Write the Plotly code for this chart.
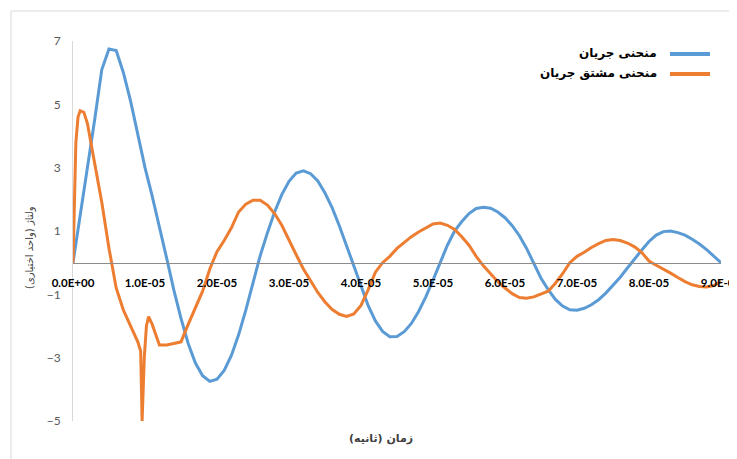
import plotly.graph_objects as go

# time in microseconds (converted to seconds below)
t_current_us = list(range(0, 91))
current = [0, 1.5, 2.9, 4.5, 6.1, 6.75, 6.7, 6.0, 5.1, 4.0,
           3.0, 2.1, 1.15, 0.15, -0.86, -1.76, -2.55, -3.17, -3.57, -3.75,
           -3.68, -3.4, -2.93, -2.28, -1.5, -0.63, 0.22, 0.94, 1.6, 2.15,
           2.57, 2.83, 2.9, 2.81, 2.58, 2.2, 1.73, 1.16, 0.52, -0.13,
           -0.78, -1.36, -1.84, -2.17, -2.34, -2.33, -2.18, -1.92, -1.54, -1.08,
           -0.55, 0.0, 0.55, 1.0, 1.3, 1.55, 1.71, 1.75, 1.72, 1.6,
           1.42, 1.17, 0.85, 0.45, 0.0, -0.49, -0.85, -1.16, -1.37, -1.49,
           -1.5, -1.44, -1.33, -1.17, -0.96, -0.72, -0.46, -0.17, 0.13, 0.4,
           0.67, 0.87, 0.98, 1.0, 0.95, 0.87, 0.74, 0.59, 0.41, 0.21,
           0.0]

t_deriv_us = [0, 0.2, 0.4, 0.7, 1.0, 1.5, 2, 3, 4, 5, 6, 7, 8, 9, 9.4, 9.6, 9.9,
              10.2, 10.5, 11, 12, 13, 14, 15, 16, 17, 18, 19, 20, 21, 22, 23, 24,
              25, 26, 27, 28, 29, 30, 31, 32, 33, 34, 35, 36, 37, 38, 39, 40, 41,
              42, 43, 44, 45, 46, 47, 48, 49, 50, 51, 52, 53, 54, 55, 56, 57, 58,
              59, 60, 61, 62, 63, 64, 65, 66, 67, 68, 69, 70, 71, 72, 73, 74, 75,
              76, 77, 78, 79, 80, 81, 82, 83, 84, 85, 86, 87, 88, 89, 90]
deriv = [0, 2.5, 3.8, 4.6, 4.8, 4.75, 4.4, 3.15, 1.9, 0.45, -0.8, -1.5, -2.0, -2.5, -2.8, -5.0, -3.0,
         -2.0, -1.7, -1.95, -2.6, -2.6, -2.55, -2.5, -1.95, -1.45, -0.9, -0.2, 0.35, 0.7, 1.1, 1.6, 1.85,
         1.97, 1.97, 1.82, 1.55, 1.18, 0.74, 0.25, -0.2, -0.59, -0.94, -1.24, -1.48, -1.63, -1.7, -1.62, -1.35, -0.85,
         -0.3, 0.0, 0.2, 0.45, 0.65, 0.82, 0.97, 1.1, 1.22, 1.25, 1.18, 1.05, 0.82, 0.55, 0.2, -0.1, -0.35,
         -0.6, -0.8, -0.98, -1.1, -1.12, -1.08, -1.0, -0.9, -0.65, -0.35, 0.0, 0.2, 0.33, 0.48, 0.6, 0.7, 0.73,
         0.7, 0.62, 0.5, 0.32, 0.05, -0.08, -0.2, -0.33, -0.47, -0.6, -0.7, -0.75, -0.77, -0.72, -0.6]

x_tick_vals = [0, 1e-5, 2e-5, 3e-5, 4e-5, 5e-5, 6e-5, 7e-5, 8e-5, 9e-5]
x_tick_text = ["0.0E+00", "1.0E-05", "2.0E-05", "3.0E-05", "4.0E-05",
               "5.0E-05", "6.0E-05", "7.0E-05", "8.0E-05", "9.0E-05"]
y_tick_vals = [-5, -3, -1, 1, 3, 5, 7]

series_names = ["منحنی جریان", "منحنی مشتق جریان"]
x_title = "زمان (ثانیه)"
y_title = "ولتاژ (واحد اختیاری)"

BLUE = "#5B9BD5"
ORANGE = "#ED7D31"

t_current = [v * 1e-6 for v in t_current_us]
t_deriv = [v * 1e-6 for v in t_deriv_us]

fig = go.Figure()
fig.add_trace(go.Scatter(x=t_current, y=current, mode="lines", name=series_names[0],
                         line=dict(color=BLUE, width=3), showlegend=False))
fig.add_trace(go.Scatter(x=t_deriv, y=deriv, mode="lines", name=series_names[1],
                         line=dict(color=ORANGE, width=3), showlegend=False))

# page body has an 8px default margin: work in screen pixels, convert to figure
OFF = 8
W, H = 737, 459
PL, PR, PT, PB = 73, 721, 41, 421  # plot area in screen pixels
L = PL - OFF
T = PT - OFF
R = W - (PR - OFF)
B = H - (PB - OFF)
pw, ph = PR - PL, PB - PT

def px(xs):
    return (xs - PL) / pw

def py(ys):
    return (PB - ys) / ph

fig.update_layout(
    width=W, height=H,
    margin=dict(l=L, r=R, t=T, b=B, pad=0, autoexpand=False),
    paper_bgcolor="white", plot_bgcolor="white",
    font=dict(family="Lato, 'Open Sans', sans-serif", size=12, color="#595959"),
    xaxis=dict(range=[0, 9e-5], tickvals=x_tick_vals, ticktext=x_tick_text,
               anchor="free", position=5 / 12, showline=True, linecolor="#8c8c8c",
               linewidth=1, showgrid=False, zeroline=False, ticks="",
               ticklabelstandoff=10, automargin=False, ticklabeloverflow="allow",
               tickfont=dict(family="Lato, 'Open Sans', sans-serif", size=11.5,
                             color="#000000", weight="bold")),
    yaxis=dict(range=[-5, 7], tickvals=y_tick_vals, showline=True, linecolor="#d9d9d9",
               linewidth=1, showgrid=False, zeroline=False, ticks="",
               ticklabelstandoff=9, automargin=False,
               tickfont=dict(family="Lato, 'Open Sans', sans-serif", size=12, color="#595959")),
    showlegend=False,
)

shapes = [
    dict(type="rect", xref="paper", yref="paper", x0=px(11), x1=px(760), y0=py(480), y1=py(11),
         line=dict(color="#d9d9d9", width=1), fillcolor="rgba(0,0,0,0)", layer="below"),
    dict(type="line", xref="paper", yref="paper", x0=px(670), x1=px(710), y0=py(54), y1=py(54),
         line=dict(color=BLUE, width=4)),
    dict(type="line", xref="paper", yref="paper", x0=px(670), x1=px(710), y0=py(74), y1=py(74),
         line=dict(color=ORANGE, width=4)),
]
fig.update_layout(shapes=shapes)

ann_font = dict(family="'DejaVu Sans', 'Noto Sans', sans-serif", size=12, color="#000000", weight="bold")
annotations = [
    dict(text=series_names[0], xref="paper", yref="paper", x=px(659), y=py(53),
         xanchor="right", yanchor="middle", showarrow=False, font=ann_font),
    dict(text=series_names[1], xref="paper", yref="paper", x=px(659), y=py(73),
         xanchor="right", yanchor="middle", showarrow=False, font=ann_font),
    dict(text=x_title, xref="paper", yref="paper", x=px(381), y=py(438),
         xanchor="center", yanchor="middle", showarrow=False,
         font=dict(family="'DejaVu Sans', sans-serif", size=11, color="#404040", weight="bold")),
    dict(text=y_title, xref="paper", yref="paper", x=px(30), y=py(248),
         xanchor="center", yanchor="middle", showarrow=False, textangle=-90,
         font=dict(family="'DejaVu Sans', sans-serif", size=10, color="#404040")),
]
fig.update_layout(annotations=annotations)

fig.write_html("out.html")
